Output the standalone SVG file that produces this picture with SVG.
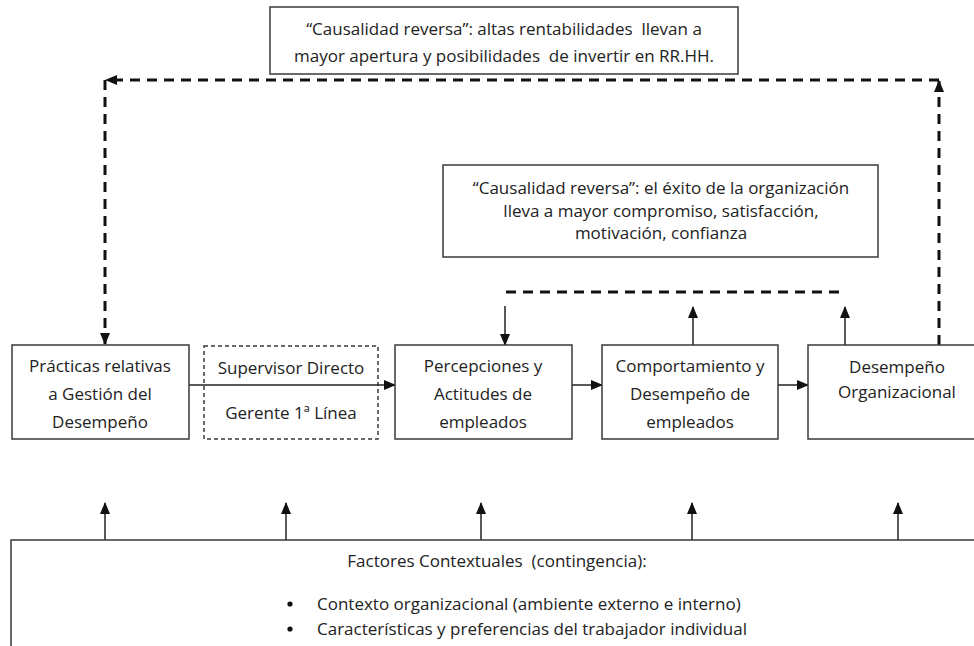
<svg xmlns="http://www.w3.org/2000/svg" width="974" height="646" viewBox="0 0 974 646">
  <style>
    .box { fill: #fff; stroke: #3a3a3a; stroke-width: 1.5; }
    .dbox { fill: #fff; stroke: #3a3a3a; stroke-width: 1.5; stroke-dasharray: 4 3; }
    .t { font-family: "Open Sans", "Liberation Sans", sans-serif; font-size: 17px; fill: #222; text-anchor: middle; dominant-baseline: central; white-space: pre; }
    .tl { font-family: "Open Sans", "Liberation Sans", sans-serif; font-size: 17px; fill: #222; dominant-baseline: central; white-space: pre; }
    .thin { fill: none; stroke: #222; stroke-width: 1.5; }
    .thick { fill: none; stroke: #111; stroke-width: 3; stroke-dasharray: 10 7; }
  </style>
  <defs>
    <marker id="ah" markerUnits="userSpaceOnUse" markerWidth="12" markerHeight="10" refX="11" refY="5" orient="auto">
      <path d="M0,0 L12,5 L0,10 Z" fill="#111"/>
    </marker>
  </defs>
  <rect width="974" height="646" fill="#fff"/>

  <!-- connectors -->
  <g id="connectors">
    <!-- upper feedback loop -->
    <path class="thick" d="M939,345 L939,81" marker-end="url(#ah)"/>
    <path class="thick" d="M939,80 L106,80" marker-end="url(#ah)"/>
    <path class="thick" d="M105,80 L105,344" marker-end="url(#ah)"/>
    <!-- lower feedback line -->
    <line class="thick" x1="506" y1="292" x2="846" y2="292"/>
    <line class="thin" x1="505" y1="306" x2="505" y2="345" marker-end="url(#ah)"/>
    <line class="thin" x1="693" y1="345" x2="693" y2="307" marker-end="url(#ah)"/>
    <line class="thin" x1="845" y1="345" x2="845" y2="307" marker-end="url(#ah)"/>
    <!-- main chain -->
    <line class="thin" x1="189" y1="385" x2="395" y2="385" marker-end="url(#ah)"/>
    <line class="thin" x1="572" y1="385" x2="602" y2="385" marker-end="url(#ah)"/>
    <line class="thin" x1="778" y1="385" x2="808" y2="385" marker-end="url(#ah)"/>
    <!-- contextual factors -->
    <line class="thin" x1="105" y1="540" x2="105" y2="503" marker-end="url(#ah)"/>
    <line class="thin" x1="286" y1="540" x2="286" y2="503" marker-end="url(#ah)"/>
    <line class="thin" x1="481" y1="540" x2="481" y2="503" marker-end="url(#ah)"/>
    <line class="thin" x1="692" y1="540" x2="692" y2="503" marker-end="url(#ah)"/>
    <line class="thin" x1="898" y1="540" x2="898" y2="503" marker-end="url(#ah)"/>
  </g>

  <g id="nota-rentabilidad">
    <rect class="box" x="270" y="7" width="468" height="67"/>
    <text class="t" x="504" y="28">“Causalidad reversa”: altas rentabilidades  llevan a</text>
    <text class="t" x="504" y="55">mayor apertura y posibilidades  de invertir en RR.HH.</text>
  </g>

  <g id="nota-exito">
    <rect class="box" x="443" y="165" width="435" height="92"/>
    <text class="t" x="661" y="187">“Causalidad reversa”: el éxito de la organización</text>
    <text class="t" x="661" y="210">lleva a mayor compromiso, satisfacción,</text>
    <text class="t" x="661" y="232">motivación, confianza</text>
  </g>

  <g id="practicas">
    <rect class="box" x="12" y="345" width="177" height="94"/>
    <text class="t" x="100" y="365">Prácticas relativas</text>
    <text class="t" x="100" y="393">a Gestión del</text>
    <text class="t" x="100" y="421">Desempeño</text>
  </g>

  <g id="supervisor">
    <rect class="dbox" x="204" y="346" width="174" height="93"/>
    <line class="thin" x1="204" y1="385" x2="378" y2="385"/>
    <text class="t" x="291" y="367">Supervisor Directo</text>
    <text class="t" x="291" y="412">Gerente 1ª Línea</text>
  </g>

  <g id="percepciones">
    <rect class="box" x="395" y="345" width="177" height="94"/>
    <text class="t" x="483" y="365">Percepciones y</text>
    <text class="t" x="483" y="393">Actitudes de</text>
    <text class="t" x="483" y="421">empleados</text>
  </g>

  <g id="comportamiento">
    <rect class="box" x="602" y="345" width="176" height="94"/>
    <text class="t" x="690" y="365">Comportamiento y</text>
    <text class="t" x="690" y="393">Desempeño de</text>
    <text class="t" x="690" y="421">empleados</text>
  </g>

  <g id="desempeno-org">
    <rect class="box" x="808" y="345" width="180" height="94"/>
    <text class="t" x="897" y="366">Desempeño</text>
    <text class="t" x="897" y="391">Organizacional</text>
  </g>

  <g id="factores">
    <rect class="box" x="11" y="540" width="980" height="120"/>
    <text class="t" x="497" y="560">Factores Contextuales  (contingencia):</text>
    <circle cx="290" cy="604" r="2.6" fill="#111"/>
    <circle cx="290" cy="629" r="2.6" fill="#111"/>
    <text class="tl" x="317" y="603">Contexto organizacional (ambiente externo e interno)</text>
    <text class="tl" x="317" y="628">Características y preferencias del trabajador individual</text>
  </g>
</svg>
